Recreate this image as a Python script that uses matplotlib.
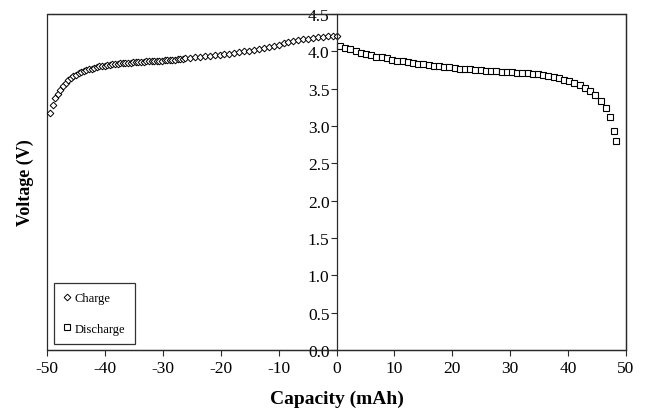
import matplotlib
matplotlib.use("Agg")
import matplotlib.pyplot as plt
from matplotlib.patches import Rectangle

plt.rcParams['font.family'] = ['Liberation Serif', 'DejaVu Serif']

# Charge data (negative capacity)
charge_cap = [
    -49.50, -49.05, -48.60, -48.15, -47.70, -47.25, -46.80, -46.35, -45.90, -45.45,
    -45.00, -44.55, -44.10, -43.65, -43.20, -42.75, -42.30, -41.85, -41.40, -40.95,
    -40.50, -40.05, -39.60, -39.15, -38.70, -38.25, -37.80, -37.35, -36.90, -36.45,
    -36.00, -35.55, -35.10, -34.65, -34.20, -33.75, -33.30, -32.85, -32.40, -31.95,
    -31.50, -31.05, -30.60, -30.15, -29.70, -29.25, -28.80, -28.35, -27.90, -27.45,
    -27.00, -26.55, -26.10,
    -25.30, -24.45, -23.60, -22.75, -21.90, -21.05, -20.20, -19.35, -18.50, -17.65,
    -16.80, -15.95, -15.10, -14.25, -13.40, -12.55, -11.70, -10.85, -10.00, -9.15,
    -8.30, -7.45, -6.60, -5.75, -4.90, -4.05, -3.20, -2.35, -1.50, -0.65, 0.00,
]
charge_v = [
    3.18, 3.28, 3.37, 3.43, 3.48, 3.53, 3.575, 3.61, 3.64, 3.665,
    3.685, 3.705, 3.72, 3.735, 3.75, 3.76, 3.77, 3.78, 3.79, 3.80,
    3.805, 3.81, 3.815, 3.82, 3.825, 3.83, 3.835, 3.84, 3.842, 3.845,
    3.848, 3.85, 3.853, 3.855, 3.858, 3.86, 3.862, 3.864, 3.866, 3.868,
    3.87, 3.872, 3.874, 3.876, 3.878, 3.88, 3.883, 3.886, 3.89, 3.893,
    3.897, 3.90, 3.905,
    3.91, 3.92, 3.925, 3.935, 3.94, 3.945, 3.955, 3.96, 3.97, 3.98,
    3.99, 4.00, 4.01, 4.02, 4.03, 4.045, 4.06, 4.075, 4.09, 4.105,
    4.12, 4.135, 4.15, 4.16, 4.17, 4.18, 4.19, 4.195, 4.20, 4.20, 4.20,
]

# Discharge data
discharge_cap = [
    0.6, 1.5, 2.4, 3.3, 4.2, 5.1, 6.0, 6.9, 7.8, 8.7,
    9.6, 10.5, 11.4, 12.3, 13.2, 14.1, 15.0, 15.9, 16.8, 17.7,
    18.6, 19.5, 20.4, 21.3, 22.2, 23.1, 24.0, 24.9, 25.8, 26.7,
    27.6, 28.5, 29.4, 30.3, 31.2, 32.1, 33.0, 33.9, 34.8, 35.7,
    36.6, 37.5, 38.4, 39.3, 40.2, 41.1, 42.0, 42.9, 43.8, 44.7,
    45.6, 46.5, 47.2, 48.0, 48.3,
]
discharge_v = [
    4.07, 4.045, 4.025, 4.00, 3.98, 3.96, 3.945, 3.93, 3.92, 3.905,
    3.89, 3.875, 3.865, 3.855, 3.845, 3.835, 3.83, 3.82, 3.81, 3.80,
    3.795, 3.785, 3.78, 3.77, 3.765, 3.76, 3.75, 3.745, 3.74, 3.735,
    3.73, 3.725, 3.72, 3.72, 3.715, 3.71, 3.705, 3.70, 3.69, 3.68,
    3.67, 3.655, 3.64, 3.62, 3.60, 3.575, 3.545, 3.51, 3.465, 3.415,
    3.34, 3.24, 3.12, 2.93, 2.80,
]

x_ticks = [-50, -40, -30, -20, -10, 0, 10, 20, 30, 40, 50]
y_ticks = [0.0, 0.5, 1.0, 1.5, 2.0, 2.5, 3.0, 3.5, 4.0, 4.5]

fig = plt.figure(figsize=(6.48, 4.14), dpi=100)
ax = fig.add_axes([47/648, 1 - 351/414, (626 - 47)/648, (351 - 15)/414])

ax.plot(charge_cap, charge_v, linestyle='none', marker='D', markersize=3.4,
        markerfacecolor='white', markeredgecolor='black', markeredgewidth=0.7,
        label='Charge')
ax.plot(discharge_cap, discharge_v, linestyle='none', marker='s', markersize=4.8,
        markerfacecolor='white', markeredgecolor='black', markeredgewidth=0.8,
        label='Discharge')

ax.set_xlim(-50, 50)
ax.set_ylim(0, 4.5)
ax.set_xticks(x_ticks)
ax.set_xticklabels([f"{t:d}" for t in x_ticks])
ax.set_yticks(y_ticks)
ax.set_yticklabels([f"{t:.1f}" for t in y_ticks])

frame_color = '#2a2a2a'
for s in ['top', 'right', 'bottom', 'left']:
    ax.spines[s].set_color(frame_color)
    ax.spines[s].set_linewidth(0.9)
ax.spines['left'].set_position(('data', 0))
ax.add_patch(Rectangle((0, 0), 1, 1, transform=ax.transAxes, fill=False,
                       edgecolor=frame_color, linewidth=0.9, clip_on=False))

ax.tick_params(axis='x', direction='out', length=4, width=0.8, color=frame_color,
               labelsize=12.5, pad=3)
ax.tick_params(axis='y', direction='out', length=4, width=0.8, color=frame_color,
               labelsize=12.5, pad=1)

ax.set_xlabel('Capacity (mAh)', fontsize=14, fontweight='bold', labelpad=10)
fig.text(25/648, 1 - 183/414, 'Voltage (V)', rotation=90, fontsize=13,
         fontweight='bold', ha='center', va='center')

leg = ax.legend(loc='lower left', bbox_to_anchor=(7/579, 6/336), borderaxespad=0,
                fontsize=9, frameon=True, fancybox=False, labelspacing=1.45,
                handlelength=0.6, handletextpad=0.3, borderpad=0.75,
                markerscale=1.0)
leg.get_frame().set_edgecolor('black')
leg.get_frame().set_linewidth(0.9)

fig.savefig('out.png', dpi=100)
